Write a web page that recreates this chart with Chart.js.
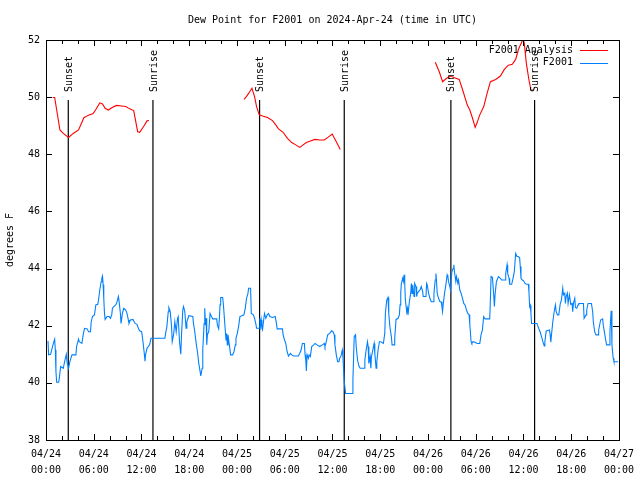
<!DOCTYPE html>
<html><head><meta charset="utf-8">
<script src="https://cdn.jsdelivr.net/npm/chart.js@4.4.1/dist/chart.umd.min.js"></script>
<style>html,body{margin:0;padding:0;background:#fff;}canvas{display:block;}</style>
</head><body>
<canvas id="c" width="640" height="480"></canvas>
<script>
const chartTitle = 'Dew Point for F2001 on 2024-Apr-24 (time in UTC)';
const yAxisLabel = 'degrees F';
const analysisName = 'F2001 Analysis';
const obsName = 'F2001';
const xTickLabels = [
  ['04/24','00:00'],['04/24','06:00'],['04/24','12:00'],['04/24','18:00'],
  ['04/25','00:00'],['04/25','06:00'],['04/25','12:00'],['04/25','18:00'],
  ['04/26','00:00'],['04/26','06:00'],['04/26','12:00'],['04/26','18:00'],
  ['04/27','00:00']
];
// hours since 04/24 00:00 UTC
const sunsetTimes = [2.8, 26.84, 50.88];
const sunriseTimes = [13.44, 37.48, 61.4];

const analysisTimes = [
  0.83,1.09,1.75,2.17,2.84,3.42,4.09,4.76,5.34,5.93,6.26,6.76,7.1,7.43,7.85,8.26,8.85,9.52,10.02,10.52,11.02,11.52,11.77,12.27,12.69,12.94,
  18,
  24.88,25.13,25.46,25.88,26.21,26.46,26.8,27.21,27.84,28.46,28.88,29.21,29.8,30.34,30.88,31.38,31.89,32.31,32.72,33.31,33.81,34.4,34.97,35.47,35.97,36.48,36.98,
  42,
  48.92,49.42,49.84,50.34,50.84,51.34,51.93,52.43,52.93,53.26,53.6,53.93,54.18,54.51,55.01,55.43,55.85,56.51,57.1,57.6,58.1,58.6,59.02,59.35,59.6,59.94,60.1,60.36,60.69,60.94,61.19
];
const analysisValues = [
  49.99,49.99,48.85,48.73,48.59,48.73,48.85,49.28,49.37,49.43,49.57,49.8,49.76,49.61,49.55,49.63,49.71,49.69,49.67,49.59,49.53,48.79,48.77,48.97,49.17,49.18,
  null,
  49.92,50.0,50.13,50.31,50.02,49.67,49.38,49.34,49.29,49.18,49.03,48.89,48.77,48.56,48.41,48.33,48.24,48.33,48.41,48.47,48.52,48.5,48.5,48.6,48.71,48.44,48.17,
  null,
  51.22,50.89,50.54,50.66,50.74,50.68,50.62,50.19,49.73,49.55,49.26,48.94,49.11,49.38,49.67,50.13,50.54,50.62,50.74,50.97,51.12,51.15,51.32,51.65,51.82,52.02,51.9,51.19,50.6,50.25,50.25
];

const obsTimes = [
  0.25,0.33,0.58,0.92,1.09,1.17,1.25,1.34,1.59,1.67,1.84,2.17,2.34,2.55,2.67,2.84,3.0,3.26,3.76,3.84,4.09,4.17,4.51,4.67,4.84,5.18,5.34,5.59,5.68,5.84,6.09,6.26,6.51,6.6,6.76,6.93,7.01,7.1,7.18,7.26,7.35,7.43,7.68,7.93,8.1,8.26,8.35,8.51,8.77,8.93,9.1,9.18,9.35,9.43,9.6,9.77,10.02,10.18,10.35,10.43,10.6,10.93,11.19,11.44,11.6,11.77,12.02,12.19,12.36,12.44,12.52,12.69,12.86,13.02,13.19,14.94,15.03,15.19,15.36,15.44,15.61,15.78,15.86,16.03,16.19,16.36,16.53,16.61,16.78,16.86,16.94,17.03,17.19,17.28,17.44,17.6,17.7,
  17.95,18.45,18.53,18.7,18.87,19.03,19.2,19.37,19.45,19.62,19.7,19.87,19.95,20.04,20.12,20.2,20.28,20.45,20.62,20.79,20.95,21.45,21.54,21.7,21.79,21.87,21.95,22.2,22.29,22.45,22.62,22.7,22.79,22.87,23.04,23.2,23.45,23.62,23.79,23.87,24.04,24.2,24.37,24.62,24.87,25.04,25.2,25.38,25.46,25.71,25.8,26.05,26.21,26.38,26.46,26.8,26.88,26.96,27.05,27.13,27.21,27.38,27.46,27.63,27.8,27.96,28.13,28.46,28.8,28.96,29.05,29.71,29.8,29.97,30.13,30.3,30.47,30.72,30.88,31.13,31.72,31.88,32.06,32.22,32.47,32.56,32.64,32.72,32.81,32.97,33.06,33.22,33.39,33.64,33.81,34.06,34.4,34.72,34.97,35.06,35.22,35.4,
  35.65,35.9,36.06,36.23,36.31,36.48,36.65,36.81,36.9,37.06,37.23,37.31,37.4,37.48,37.65,38.48,38.57,38.73,38.9,38.98,39.15,39.32,39.48,39.98,40.07,40.23,40.4,40.48,40.57,40.73,40.82,40.9,41.07,41.23,41.32,41.48,41.57,41.73,41.9,42.07,42.4,42.57,42.65,42.82,42.98,43.07,43.24,43.4,43.49,43.74,43.82,43.99,44.24,44.41,44.49,44.58,44.66,44.83,44.91,45.0,45.08,45.16,45.33,45.41,45.49,45.66,45.83,45.91,46.0,46.08,46.25,46.33,46.5,46.58,46.66,46.83,47.0,47.16,47.33,47.41,47.75,47.83,47.91,48.08,48.25,48.41,48.66,48.75,48.91,49.0,49.08,49.16,49.33,49.5,49.66,49.75,49.83,49.91,50.08,50.25,50.41,50.5,50.58,50.75,50.83,51.0,51.17,51.25,51.33,51.5,51.58,51.75,51.84,52.0,52.17,52.34,52.5,52.67,52.84,53.0,53.17,53.25,
  53.42,53.51,53.67,53.92,54.17,54.51,54.67,54.84,55.0,55.18,55.76,55.85,55.93,56.1,56.26,56.35,56.43,56.6,56.85,57.1,57.27,57.69,57.77,57.94,58.02,58.19,58.27,58.52,58.69,58.85,59.02,59.19,59.35,59.52,59.6,59.69,59.86,60.02,60.19,60.36,60.61,60.69,60.78,60.86,60.94,61.02,61.69,61.77,61.94,62.11,62.27,62.44,62.61,62.69,62.77,62.86,63.27,63.36,63.44,63.52,63.69,63.86,64.02,64.11,64.27,64.44,64.52,64.61,64.77,64.94,65.02,65.19,65.27,65.36,65.52,65.61,65.78,65.94,66.11,66.19,66.28,66.45,66.53,66.7,66.87,66.95,67.54,67.62,67.87,67.95,68.12,68.54,68.7,68.78,68.95,69.12,69.37,69.45,69.7,69.95,70.03,70.2,70.37,70.45,70.78,70.87,70.95,71.03,71.12,71.2,71.28,71.37,71.9
];
const obsValues = [
  41.47,40.98,41.0,41.38,41.53,41.15,40.39,40.02,40.02,40.16,40.57,40.51,40.74,41.0,40.68,40.51,40.74,40.98,40.98,41.27,41.53,41.44,41.38,41.68,41.91,41.89,41.79,41.79,42.14,42.32,42.38,42.73,42.75,42.9,43.25,43.54,43.66,43.74,43.43,42.96,42.43,42.22,42.32,42.32,42.26,42.38,42.61,42.67,42.73,42.84,43.02,42.87,42.43,42.08,42.43,42.61,42.55,42.43,42.2,42.08,42.2,42.22,42.08,42.05,41.91,41.82,41.79,41.44,41.0,40.76,41.0,41.21,41.27,41.33,41.56,41.56,41.73,41.97,42.49,42.63,42.49,41.97,41.44,41.68,42.14,41.79,42.26,42.32,41.44,41.21,41.0,41.68,42.55,42.67,42.5,41.91,42.14,
  42.35,42.32,42.08,41.79,41.38,41.09,40.68,40.39,40.24,40.51,41.15,42.08,42.61,42.02,42.26,41.33,41.68,41.79,42.43,42.32,42.24,42.24,42.02,41.89,42.26,42.73,42.99,42.99,42.75,42.14,41.5,41.73,41.33,41.68,41.33,40.98,40.98,41.09,41.33,41.56,41.73,41.97,42.32,42.35,42.38,42.61,42.96,43.13,43.31,43.31,42.43,42.38,42.26,42.05,41.91,41.91,42.26,42.0,42.2,41.91,41.85,42.26,42.43,42.26,42.38,42.43,42.32,42.29,42.32,42.08,41.89,41.89,41.68,41.5,41.38,41.09,40.94,41.03,40.98,40.94,40.94,41.03,41.15,41.38,41.38,40.98,40.8,40.42,40.98,40.86,40.98,40.92,41.27,41.33,41.38,41.33,41.27,41.33,41.38,41.27,41.44,41.68,
  41.73,41.82,41.79,41.68,41.33,40.98,40.74,40.74,40.86,40.93,41.15,40.92,40.45,40.04,39.63,39.63,40.1,41.62,41.68,41.27,40.8,40.59,40.51,40.51,40.8,41.15,41.44,41.27,40.68,40.92,40.51,40.92,41.15,41.38,41.03,40.51,40.74,41.15,41.44,41.44,41.38,41.73,42.43,42.9,42.99,42.43,41.91,41.62,41.33,41.33,41.56,42.22,42.26,42.38,42.73,43.16,43.48,43.66,43.55,43.78,43.48,42.9,42.49,42.61,42.38,42.84,43.13,43.48,43.13,43.43,43.02,43.48,43.37,43.02,43.13,43.2,43.25,43.37,43.2,43.02,43.02,43.48,43.43,43.13,42.96,42.84,42.84,43.13,43.6,43.83,43.55,43.13,42.96,42.84,42.84,42.67,42.49,42.73,43.13,43.43,43.78,43.72,43.55,43.37,43.25,43.89,44.01,44.13,43.89,43.55,43.72,43.49,43.6,43.25,43.13,42.96,42.78,42.72,42.55,42.43,42.38,42.08,
  41.44,41.38,41.44,41.42,41.38,41.38,41.68,41.85,42.32,42.24,42.24,42.96,43.72,43.69,43.08,42.67,43.08,43.54,43.72,43.66,43.6,43.6,43.83,44.13,43.83,43.66,43.45,43.45,43.66,43.89,44.53,44.42,44.42,44.38,44.07,43.66,43.6,43.57,43.48,43.45,43.45,43.19,42.67,42.72,42.43,42.08,42.08,42.02,41.89,41.77,41.62,41.44,41.29,41.44,41.62,41.82,41.85,41.68,41.42,41.68,42.14,42.49,42.73,42.49,42.38,42.38,42.55,42.75,42.9,43.31,43.08,43.14,42.78,43.02,43.14,42.78,43.08,42.75,42.78,42.49,42.78,42.96,42.64,42.61,42.73,42.78,42.78,42.26,42.38,42.55,42.78,42.78,42.49,42.14,41.79,41.68,41.68,41.85,42.2,42.24,42.02,41.73,41.44,41.33,41.33,41.8,42.2,42.52,41.33,41.09,40.86,40.74,40.74
];
const yMin = 38, yMax = 52, yStep = 2;
const sunLineTop = 49.9;   // top of the sunrise/sunset marker lines
const sunLabelBase = 50.18;

const FONT = 'DejaVu Sans Mono';
const toPts = (ts, vs) => ts.map((t, i) => ({x: t, y: vs[i]}));
const sunLine = (t) => ({data: [{x: t, y: yMin}, {x: t, y: sunLineTop}], borderColor: '#000', borderWidth: 1.2});

const datasets = [
  {label: analysisName, data: toPts(analysisTimes, analysisValues), borderColor: '#ff0000', borderWidth: 1.1, spanGaps: false},
  {label: obsName, data: toPts(obsTimes, obsValues), borderColor: '#0080ff', borderWidth: 1.1, spanGaps: false},
  ...sunsetTimes.map(sunLine), ...sunriseTimes.map(sunLine)
];

const decorPlugin = {
  id: 'decor',
  beforeDatasetsDraw(chart) {
    const {ctx, chartArea: a} = chart;
    ctx.save();
    ctx.font = '10px "' + FONT + '"';
    ctx.textBaseline = 'middle';
    ctx.textAlign = 'right';
    const items = [[analysisName, '#ff0000'], [obsName, '#0080ff']];
    items.forEach((it, i) => {
      const yy = a.top + 10 + i * 12.5;
      ctx.fillStyle = '#000';
      ctx.fillText(it[0], a.right - 46, yy);
      ctx.strokeStyle = it[1];
      ctx.lineWidth = 1;
      ctx.beginPath();
      ctx.moveTo(a.right - 39, Math.round(yy) + 0.5);
      ctx.lineTo(a.right - 11, Math.round(yy) + 0.5);
      ctx.stroke();
    });
    ctx.restore();
  },
  afterDatasetsDraw(chart) {
    const {ctx, chartArea: a, scales: {x, y}} = chart;
    ctx.save();
    ctx.strokeStyle = '#000';
    ctx.lineWidth = 1;
    ctx.strokeRect(Math.round(a.left) + 0.5, Math.round(a.top) + 0.5, Math.round(a.right - a.left), Math.round(a.bottom - a.top));
    ctx.beginPath();
    for (let h = 0; h <= 72; h += 2) {
      const px = Math.round(x.getPixelForValue(h)) + 0.5;
      const len = (h % 6 === 0) ? 6 : 4;
      ctx.moveTo(px, a.bottom); ctx.lineTo(px, a.bottom - len);
      ctx.moveTo(px, a.top); ctx.lineTo(px, a.top + len);
    }
    for (let v = yMin; v <= yMax; v += yStep) {
      const py = Math.round(y.getPixelForValue(v)) + 0.5;
      ctx.moveTo(a.left, py); ctx.lineTo(a.left + 6, py);
      ctx.moveTo(a.right, py); ctx.lineTo(a.right - 6, py);
    }
    ctx.stroke();
    ctx.font = '10px "' + FONT + '"';
    ctx.fillStyle = '#000';
    const lab = (t, txt) => {
      const px = x.getPixelForValue(t);
      const py = y.getPixelForValue(sunLabelBase);
      ctx.save();
      ctx.translate(px + 1, py);
      ctx.rotate(-Math.PI / 2);
      ctx.textAlign = 'left';
      ctx.textBaseline = 'middle';
      ctx.fillText(txt, 0, 0);
      ctx.restore();
    };
    sunsetTimes.forEach(t => lab(t, 'Sunset'));
    sunriseTimes.forEach(t => lab(t, 'Sunrise'));
    ctx.textAlign = 'center';
    ctx.textBaseline = 'middle';
    ctx.fillText(chartTitle, (a.left + a.right) / 2, 20);
    ctx.restore();
  }
};

new Chart(document.getElementById('c'), {
  type: 'line',
  data: {datasets},
  options: {
    responsive: false,
    animation: false,
    devicePixelRatio: 1,
    layout: {padding: {top: 40, right: 19, left: 0, bottom: 0}},
    elements: {point: {radius: 0, hoverRadius: 0}, line: {tension: 0}},
    plugins: {legend: {display: false}, tooltip: {enabled: false}, title: {display: false}},
    scales: {
      x: {
        type: 'linear', min: 0, max: 72,
        grid: {display: false, drawTicks: false},
        border: {display: false},
        afterFit: (s) => { s.height = 40; },
        ticks: {
          stepSize: 6, autoSkip: false, maxRotation: 0, padding: 6, color: '#000',
          font: {family: FONT, size: 10, lineHeight: 1.6},
          callback: (v) => xTickLabels[Math.round(v / 6)]
        }
      },
      y: {
        min: yMin, max: yMax,
        grid: {display: false, drawTicks: false},
        border: {display: false},
        afterFit: (s) => { s.width = 46; },
        ticks: {stepSize: yStep, padding: 6, color: '#000', font: {family: FONT, size: 10}},
        title: {display: true, text: yAxisLabel, color: '#000', font: {family: FONT, size: 10}, padding: {top: 4, bottom: 0}}
      }
    }
  },
  plugins: [decorPlugin]
});
</script>
</body></html>
